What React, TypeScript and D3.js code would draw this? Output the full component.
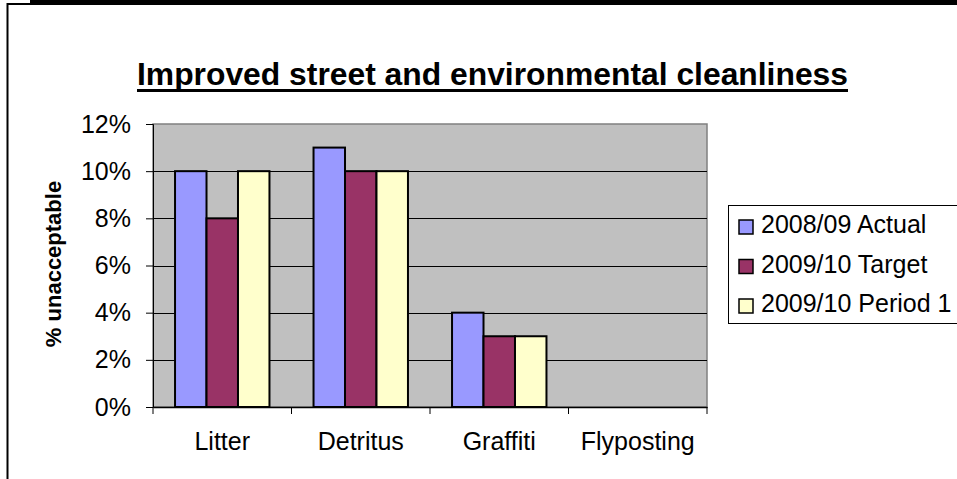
import React, { useEffect, useRef } from 'react';
import * as d3 from 'd3';

const categories = ['Litter', 'Detritus', 'Graffiti', 'Flyposting'];
const seriesNames = ['2008/09 Actual', '2009/10 Target', '2009/10 Period 1'];
const actual0809 = [0.10, 0.11, 0.04, null];
const target0910 = [0.08, 0.10, 0.03, null];
const period1 = [0.10, 0.10, 0.03, null];
const yTicks = [0, 0.02, 0.04, 0.06, 0.08, 0.10, 0.12];
const colors = ['#9999FF', '#993366', '#FFFFCC'];

const title = 'Improved street and environmental cleanliness';
const yLabel = '% unacceptable';

function App() {
  const svgRef = useRef<SVGSVGElement>(null);

  useEffect(() => {
    const svg = d3.select(svgRef.current);
    svg.selectAll('*').remove();

    const width = 957;
    const height = 479;
    const plot = { left: 153, right: 707, top: 124, bottom: 407 };
    const font = 'Liberation Sans, Arial, sans-serif';

    svg.attr('width', width).attr('height', height);

    // outer frame
    svg.append('rect').attr('x', 30).attr('y', 0).attr('width', width).attr('height', 3).attr('fill', '#000');
    svg.append('rect')
      .attr('x', 7.5).attr('y', 4)
      .attr('width', width + 20).attr('height', height + 20)
      .attr('fill', 'none').attr('stroke', '#000').attr('stroke-width', 2);

    // title
    svg.append('text')
      .attr('x', 137).attr('y', 85)
      .attr('textLength', 711).attr('lengthAdjust', 'spacingAndGlyphs')
      .attr('font-family', font).attr('font-weight', 'bold').attr('font-size', 31)
      .text(title);
    svg.append('rect').attr('x', 137).attr('y', 89).attr('width', 711).attr('height', 3).attr('fill', '#000');

    const x = d3.scaleBand().domain(categories).range([plot.left, plot.right]).padding(0);
    const inner = d3.scaleBand().domain(seriesNames).range([0, x.bandwidth()]).paddingInner(0).paddingOuter(0.7);
    const y = d3.scaleLinear().domain([0, 0.12]).range([plot.bottom, plot.top]);

    // plot background
    svg.append('rect')
      .attr('x', plot.left).attr('y', plot.top)
      .attr('width', plot.right - plot.left).attr('height', plot.bottom - plot.top)
      .attr('fill', '#C0C0C0').attr('stroke', '#808080').attr('stroke-width', 1.5);

    // gridlines
    svg.append('g')
      .selectAll('line')
      .data(yTicks.filter(t => t > 0 && t < 0.12))
      .enter()
      .append('line')
      .attr('x1', plot.left).attr('x2', plot.right)
      .attr('y1', d => Math.round(y(d)) + 0.5).attr('y2', d => Math.round(y(d)) + 0.5)
      .attr('stroke', '#000').attr('stroke-width', 1);

    // bars
    const allSeries = [actual0809, target0910, period1];
    allSeries.forEach((vals, si) => {
      svg.append('g')
        .selectAll('rect')
        .data(vals.map((v, i) => ({ v, c: categories[i] })).filter(d => d.v != null))
        .enter()
        .append('rect')
        .attr('x', d => (x(d.c) as number) + (inner(seriesNames[si]) as number))
        .attr('y', d => y(d.v as number))
        .attr('width', inner.bandwidth())
        .attr('height', d => plot.bottom - y(d.v as number))
        .attr('fill', colors[si])
        .attr('stroke', '#000').attr('stroke-width', 2);
    });

    // y axis
    const yAxis = svg.append('g')
      .attr('transform', `translate(${plot.left},0)`)
      .call(d3.axisLeft(y).tickValues(yTicks).tickSize(7).tickPadding(15).tickFormat(d3.format('.0%')));
    yAxis.select('.domain').attr('stroke', '#000').attr('stroke-width', 1);
    yAxis.selectAll('line').attr('stroke', '#000');
    yAxis.selectAll('text').attr('font-family', font).attr('font-size', 25).attr('fill', '#000');

    // x axis
    const xAxis = svg.append('g')
      .attr('transform', `translate(0,${plot.bottom})`)
      .call(d3.axisBottom(x).tickSize(0).tickPadding(25));
    xAxis.select('.domain').attr('stroke', '#000').attr('stroke-width', 1.5);
    xAxis.selectAll('text').attr('font-family', font).attr('font-size', 25).attr('fill', '#000');
    svg.append('g')
      .selectAll('line')
      .data(categories.map(c => x(c) as number).concat([plot.right]))
      .enter()
      .append('line')
      .attr('x1', d => d).attr('x2', d => d)
      .attr('y1', plot.bottom).attr('y2', plot.bottom + 7)
      .attr('stroke', '#000');

    // y label
    svg.append('text')
      .attr('transform', `translate(61,264) rotate(-90)`)
      .attr('text-anchor', 'middle')
      .attr('font-family', font).attr('font-weight', 'bold').attr('font-size', 22)
      .text(yLabel);

    // legend
    const legend = svg.append('g');
    legend.append('rect')
      .attr('x', 728.5).attr('y', 205.5).attr('width', 260).attr('height', 118)
      .attr('fill', '#fff').attr('stroke', '#000').attr('stroke-width', 1);
    seriesNames.forEach((name, i) => {
      const base = 233 + i * 39.5;
      legend.append('rect')
        .attr('x', 739).attr('y', base - 13).attr('width', 14).attr('height', 14)
        .attr('fill', colors[i]).attr('stroke', '#000').attr('stroke-width', 1.5);
      legend.append('text')
        .attr('x', 761).attr('y', base)
        .attr('font-family', font).attr('font-size', 25)
        .text(name);
    });
  }, []);

  return (
    <div style={{ position: 'absolute', left: 0, top: 0 }}>
      <svg ref={svgRef}></svg>
    </div>
  );
}

export default App;
